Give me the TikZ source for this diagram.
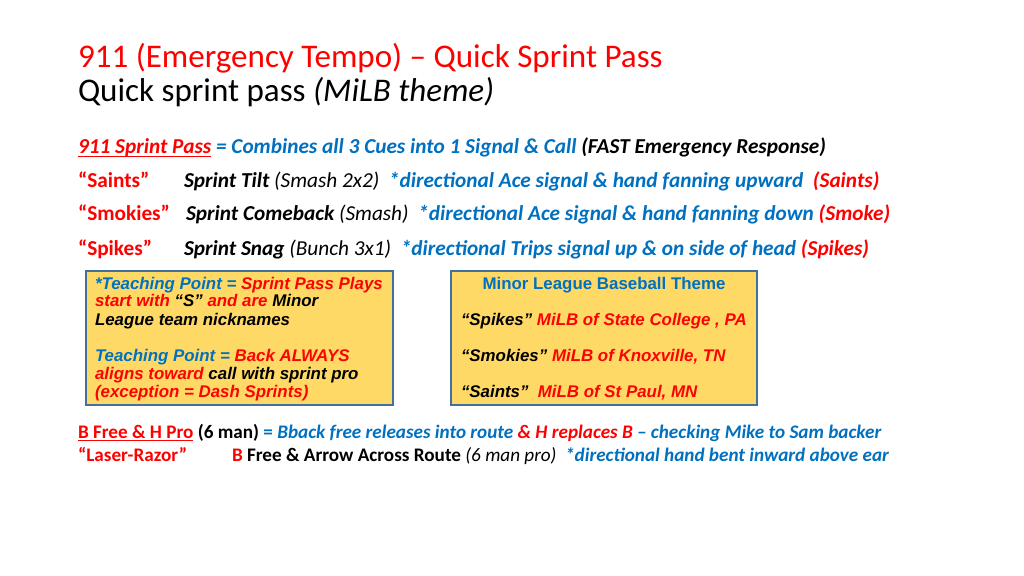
\documentclass[tikz,border=0pt]{standalone}
\usepackage{fontspec}
\setmainfont{Carlito}
\newfontfamily\arialfont{Liberation Sans}
\usepackage{tikz}
\usetikzlibrary{positioning}
\definecolor{slidered}{HTML}{FF0000}
\definecolor{slideblue}{HTML}{0070C0}
\definecolor{boxfill}{HTML}{FFD966}
\definecolor{boxline}{HTML}{41719C}
\tikzstyle{txt} = [anchor=base west,inner sep=0pt,outer sep=0pt]
\tikzstyle{title} = [txt,font=\fontsize{9.4pt}{11pt}\selectfont]
\tikzstyle{body} = [txt,font=\fontsize{6.05pt}{7pt}\selectfont\bfseries]
\tikzstyle{low} = [txt,font=\fontsize{5.45pt}{6.5pt}\selectfont\bfseries]
\tikzstyle{card} = [draw=boxline,fill=boxfill,line width=0.35pt]
\tikzstyle{cardtxt} = [txt,font=\fontsize{4.8pt}{5.1pt}\selectfont\arialfont\bfseries\itshape]
\newcommand{\rd}[1]{\textcolor{slidered}{#1}}
\newcommand{\bl}[1]{\textcolor{slideblue}{#1}}
\newcommand{\undl}[1]{\leavevmode\setbox0\hbox{#1}\rlap{\rule[-0.9pt]{\wd0}{0.35pt}}\box0}

\begin{document}
\begin{tikzpicture}[x=0.01cm,y=-0.01cm]
\useasboundingbox[fill=white] (0,0) rectangle (1024,576);

% title
\node[title,text=slidered] (head) at (78,68) {911 (Emergency Tempo) -- Quick Sprint Pass};
\node[title] (subhead) at (78,102) {Quick sprint pass \textit{(MiLB theme)}};

% sprint pass lines
\node[body] (combo) at (78,154) {\itshape\rd{\undl{911 Sprint Pass}} \bl{= Combines all 3 Cues into 1 Signal \& Call} (FAST Emergency Response)};
\node[body,text=slidered] (saints) at (78,188) {“Saints”};
\node[body] (tilt) at (184,188) {\itshape Sprint Tilt \mdseries(Smash 2x2)\bfseries\ \ \bl{*directional Ace signal \& hand fanning upward}\ \ \rd{(Saints)}};
\node[body,text=slidered] (smokies) at (78,221) {“Smokies”};
\node[body] (comeback) at (186,221) {\itshape Sprint Comeback \mdseries(Smash)\bfseries\ \ \bl{*directional Ace signal \& hand fanning down} \rd{(Smoke)}};
\node[body,text=slidered] (spikes) at (78,255) {“Spikes”};
\node[body] (snag) at (184,255) {\itshape Sprint Snag \mdseries(Bunch 3x1)\bfseries\ \ \bl{*directional Trips signal up \& on side of head} \rd{(Spikes)}};

% cards
\draw[card] (86,271) rectangle (393,405);
\draw[card] (451,271) rectangle (757,405);
\node[cardtxt] (teach1) at (95,289) {\bl{*Teaching Point =} \rd{Sprint Pass Plays}};
\node[cardtxt] (teach2) at (95,307) {\rd{start with} “S” \rd{and are} Minor};
\node[cardtxt] (teach3) at (95,325) {League team nicknames};
\node[cardtxt] (teach4) at (95,361) {\bl{Teaching Point =} \rd{Back ALWAYS}};
\node[cardtxt] (teach5) at (95,379) {\rd{aligns toward} call with sprint pro};
\node[cardtxt] (teach6) at (95,397) {\rd{(exception = Dash Sprints)}};
\node[cardtxt,anchor=base,font=\fontsize{4.8pt}{5.1pt}\selectfont\arialfont\bfseries] (theme) at (604,289) {\bl{Minor League Baseball Theme}};
\node[cardtxt] (spikesteam) at (461,325) {“Spikes” \rd{MiLB of State College , PA}};
\node[cardtxt] (smokiesteam) at (461,361) {“Smokies” \rd{MiLB of Knoxville, TN}};
\node[cardtxt] (saintsteam) at (461,397) {“Saints”\ \ \rd{MiLB of St Paul, MN}};

% back free lines
\node[low] (free) at (78,438) {\rd{\undl{B Free \& H Pro}} (6 man) \bl{= \itshape Bback free releases into route} \rd{\itshape\& H replaces B} \bl{\itshape -- checking Mike to Sam backer}};
\node[low,text=slidered] (laser) at (78,461) {“Laser-Razor”};
\node[low] (arrow) at (232,461) {\rd{B} Free \& Arrow Across Route \mdseries\itshape(6 man pro)\ \ \bfseries\bl{*directional hand bent inward above ear}};
\end{tikzpicture}
\end{document}
